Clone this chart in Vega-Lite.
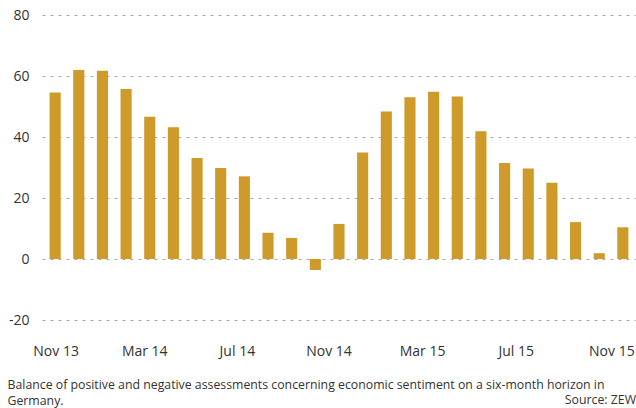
{
  "$schema": "https://vega.github.io/schema/vega-lite/v6.json",
  "width": 594,
  "height": 305,
  "autosize": {"type": "none"},
  "padding": {"left": 42, "top": 15, "right": 0, "bottom": 88},
  "background": "white",
  "config": {
    "view": {"stroke": null},
    "font": "Open Sans"
  },
  "title": {
    "text": "Source: ZEW",
    "orient": "bottom",
    "anchor": "end",
    "fontSize": 12.3,
    "fontWeight": "normal",
    "color": "#333333",
    "font": "Open Sans",
    "offset": -12
  },
  "data": {
    "values": [
      {"month": "Nov 13", "value": 54.6},
      {"month": "Dec 13", "value": 62.0},
      {"month": "Jan 14", "value": 61.7},
      {"month": "Feb 14", "value": 55.7},
      {"month": "Mar 14", "value": 46.6},
      {"month": "Apr 14", "value": 43.2},
      {"month": "May 14", "value": 33.1},
      {"month": "Jun 14", "value": 29.8},
      {"month": "Jul 14", "value": 27.1},
      {"month": "Aug 14", "value": 8.6},
      {"month": "Sep 14", "value": 6.9},
      {"month": "Oct 14", "value": -3.6},
      {"month": "Nov 14", "value": 11.5},
      {"month": "Dec 14", "value": 34.9},
      {"month": "Jan 15", "value": 48.4},
      {"month": "Feb 15", "value": 53.0},
      {"month": "Mar 15", "value": 54.8},
      {"month": "Apr 15", "value": 53.3},
      {"month": "May 15", "value": 41.9},
      {"month": "Jun 15", "value": 31.5},
      {"month": "Jul 15", "value": 29.7},
      {"month": "Aug 15", "value": 25.0},
      {"month": "Sep 15", "value": 12.1},
      {"month": "Oct 15", "value": 1.9},
      {"month": "Nov 15", "value": 10.4}
    ]
  },
  "mark": {"type": "bar", "color": "#CE9A2A"},
  "encoding": {
    "x": {
      "field": "month",
      "type": "ordinal",
      "sort": null,
      "scale": {"paddingInner": 0.53, "paddingOuter": 0.32},
      "axis": {
        "values": ["Nov 13", "Mar 14", "Jul 14", "Nov 14", "Mar 15", "Jul 15", "Nov 15"],
        "labelAngle": 0,
        "domain": false,
        "ticks": false,
        "labelFontSize": 14,
        "labelColor": "#333333",
        "labelPadding": 24,
        "labelOverlap": false,
        "labelOffset": {
          "condition": [
            {"test": "datum.value == 'Nov 13'", "value": 1},
            {"test": "datum.value == 'Mar 14'", "value": -5},
            {"test": "datum.value == 'Jul 14'", "value": -7},
            {"test": "datum.value == 'Nov 14'", "value": -10},
            {"test": "datum.value == 'Mar 15'", "value": -11},
            {"test": "datum.value == 'Jul 15'", "value": -12}
          ],
          "value": -11
        },
        "title": ["Balance of positive and negative assessments concerning economic sentiment on a six-month horizon in", "Germany."],
        "titleFontSize": 12.3,
        "titleFontWeight": "normal",
        "titleColor": "#333333",
        "titleAnchor": "start",
        "titleAlign": "left",
        "titleX": -35,
        "titlePadding": 20,
        "titleLineHeight": 16
      }
    },
    "y": {
      "field": "value",
      "type": "quantitative",
      "scale": {"domain": [-20, 80]},
      "axis": {
        "values": [-20, 0, 20, 40, 60, 80],
        "labelExpr": "toString(datum.value)",
        "title": null,
        "domain": false,
        "ticks": false,
        "labelFontSize": 14,
        "labelColor": "#333333",
        "labelPadding": 13,
        "gridColor": "#aaaaaa",
        "gridDash": [3, 5],
        "gridWidth": 1
      }
    }
  }
}
